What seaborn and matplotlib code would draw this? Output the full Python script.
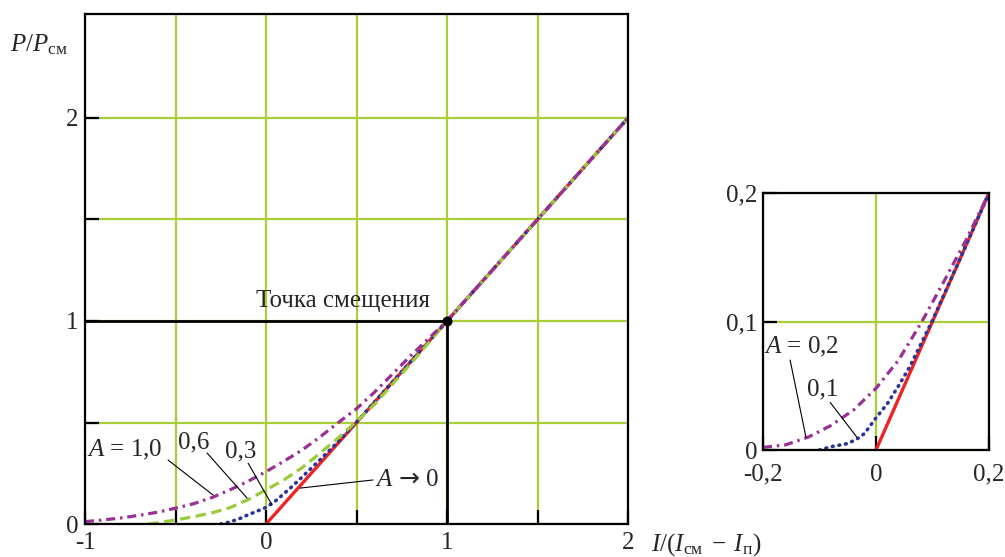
import matplotlib
matplotlib.use("Agg")
import matplotlib.pyplot as plt
import seaborn as sns

# Normalised current I/(I_cm - I_p) and output power P/P_cm for several A
a10_x = [-1.0, -0.9, -0.8, -0.7, -0.6, -0.5, -0.4, -0.3, -0.2, -0.1, 0.0,
         0.1, 0.2, 0.3, 0.4, 0.5, 0.6, 0.7, 0.8, 0.9, 1.0, 1.5, 2.0]
a10_y = [0.012, 0.02, 0.03, 0.043, 0.058, 0.078, 0.10, 0.13, 0.168, 0.21, 0.258,
         0.31, 0.365, 0.43, 0.50, 0.568, 0.65, 0.74, 0.83, 0.915, 1.0, 1.5, 2.0]

a06_x = [-0.65, -0.6, -0.5, -0.4, -0.3, -0.2, -0.1, 0.0, 0.1, 0.2, 0.3,
         0.4, 0.5, 0.6, 0.7, 0.8, 0.9, 1.0, 1.5, 2.0]
a06_y = [0.0, 0.006, 0.02, 0.036, 0.055, 0.08, 0.12, 0.168, 0.218, 0.278, 0.35,
         0.425, 0.505, 0.59, 0.69, 0.79, 0.895, 1.0, 1.5, 2.0]

a03_x = [-0.25, -0.2, -0.15, -0.1, -0.05, 0.0, 0.05, 0.1, 0.15, 0.2, 0.3,
         0.4, 0.5, 1.0, 1.5, 2.0]
a03_y = [0.0, 0.01, 0.025, 0.045, 0.063, 0.082, 0.112, 0.15, 0.19, 0.232, 0.318,
         0.407, 0.502, 1.0, 1.5, 2.0]

a00_x = [0.0, 2.0]
a00_y = [0.0, 2.0]

# Enlarged region near threshold
z02_x = [-0.2, -0.16, -0.12, -0.08, -0.04, 0.0, 0.04, 0.08, 0.12, 0.16, 0.2]
z02_y = [0.002, 0.004, 0.01, 0.019, 0.031, 0.048, 0.07, 0.099, 0.131, 0.164, 0.2]

z01_x = [-0.1, -0.08, -0.05, -0.03, -0.02, 0.0, 0.02, 0.04, 0.06, 0.08, 0.1, 0.15, 0.2]
z01_y = [0.0, 0.0025, 0.005, 0.0095, 0.013, 0.025, 0.036, 0.05, 0.065, 0.083, 0.101, 0.15, 0.2]

z00_x = [0.0, 0.2]
z00_y = [0.0, 0.2]

bias_x, bias_y = 1.0, 1.0

main_xticks = [-1, -0.5, 0, 0.5, 1, 1.5, 2]
main_xlabels = ["-1", "", "0", "", "1", "", "2"]
main_yticks = [0, 0.5, 1, 1.5, 2]
main_ylabels = ["0", "", "1", "", "2"]
zoom_xticks = [-0.2, 0, 0.2]
zoom_xlabels = ["-0,2", "0", "0,2"]
zoom_yticks = [0, 0.1, 0.2]
zoom_ylabels = ["0", "0,1", "0,2"]

sns.set_style("white")
plt.rcParams["font.family"] = ["Liberation Serif", "DejaVu Serif"]
plt.rcParams["mathtext.fontset"] = "custom"
plt.rcParams["mathtext.rm"] = "Liberation Serif"
plt.rcParams["mathtext.it"] = "Liberation Serif:italic"
plt.rcParams["mathtext.sf"] = "DejaVu Sans"
plt.rcParams["mathtext.fallback"] = "stix"
plt.rcParams["lines.scale_dashes"] = False
plt.rcParams["axes.unicode_minus"] = False

GRID = "#a9cf38"
PURPLE = "#9a2f96"
GREEN = "#9acb3c"
BLUE = "#29359a"
RED = "#ee2424"
FS = 18

fig = plt.figure(figsize=(10.05, 5.57), dpi=100)
ax = fig.add_axes([0.0846, 0.0592, 0.5403, 0.9157])
ins = fig.add_axes([0.7592, 0.1921, 0.2249, 0.4614])


def style_axes(a, xt, xl, yt, yl, xlim, ylim, xpad, ypad):
    a.set_xlim(*xlim)
    a.set_ylim(*ylim)
    a.set_xticks(xt)
    a.set_xticklabels(xl)
    a.set_yticks(yt)
    a.set_yticklabels(yl)
    a.grid(True, color=GRID, lw=1.6)
    a.set_axisbelow(True)
    a.tick_params(axis="both", direction="in", length=10, width=1.6,
                  color="black", labelsize=FS, bottom=True, left=True)
    a.tick_params(axis="x", pad=xpad)
    a.tick_params(axis="y", pad=ypad)
    for s in a.spines.values():
        s.set_visible(True)
        s.set_color("black")
        s.set_linewidth(1.6)
    a.set_xlabel("")
    a.set_ylabel("")


def curve(a, xs, ys, color, dashes=None, lw=2.3, cap="butt"):
    sns.lineplot(x=xs, y=ys, ax=a, color=color, lw=lw, sort=False,
                 estimator=None, solid_capstyle="butt")
    line = a.get_lines()[-1]
    if dashes is not None:
        line.set_dashes(dashes)
        line.set_dash_capstyle(cap)
    return line


# Main chart
curve(ax, a00_x, a00_y, RED, lw=2.4)
curve(ax, a03_x, a03_y, BLUE, dashes=[0.6, 4.2], lw=2.6, cap="round")
curve(ax, a06_x, a06_y, GREEN, dashes=[7.5, 4.0])
curve(ax, a10_x, a10_y, PURPLE, dashes=[6.5, 3.5, 1.8, 3.5])

ax.hlines(bias_y, -1, bias_x, color="black", lw=2.0, zorder=1.5)
ax.vlines(bias_x, 0, bias_y, color="black", lw=2.0, zorder=1.5)
ax.scatter([bias_x], [bias_y], s=38, color="black", zorder=6)
style_axes(ax, main_xticks, main_xlabels, main_yticks, main_ylabels,
           (-1, 2), (0, 2.512), 6, 5)

ax.text(0.425, 1.098, "Точка смещения", fontsize=FS, ha="center", va="center")

ann = dict(arrowstyle="-", color="black", lw=0.8, shrinkA=0, shrinkB=0)
ax.text(-0.78, 0.365, "$A$ = 1,0", fontsize=FS, ha="center", va="center")
ax.annotate("", xy=(-0.293, 0.143), xytext=(-0.541, 0.315), arrowprops=ann)
ax.text(-0.398, 0.404, "0,6", fontsize=FS, ha="center", va="center")
ax.annotate("", xy=(-0.105, 0.128), xytext=(-0.326, 0.350), arrowprops=ann)
ax.text(-0.138, 0.355, "0,3", fontsize=FS, ha="center", va="center")
ax.annotate("", xy=(0.033, 0.094), xytext=(-0.099, 0.300), arrowprops=ann)
ax.text(0.603, 0.217, r"$A\,\mathsf{\rightarrow}\,0$", fontsize=FS,
        ha="left", va="center")
ax.annotate("", xy=(0.188, 0.177), xytext=(0.591, 0.217), arrowprops=ann)

# Inset near threshold
curve(ins, z00_x, z00_y, RED, lw=2.4)
curve(ins, z01_x, z01_y, BLUE, dashes=[0.6, 4.2], lw=2.6, cap="round")
curve(ins, z02_x, z02_y, PURPLE, dashes=[6.5, 3.5, 1.8, 3.5])
style_axes(ins, zoom_xticks, zoom_xlabels, zoom_yticks, zoom_ylabels,
           (-0.2, 0.2), (0, 0.2), 10, 4)

ins.text(-0.131, 0.080, "$A$ = 0,2", fontsize=FS, ha="center", va="center")
ins.annotate("", xy=(-0.124, 0.010), xytext=(-0.152, 0.070), arrowprops=ann)
ins.text(-0.094, 0.047, "0,1", fontsize=FS, ha="center", va="center")
ins.annotate("", xy=(-0.034, 0.010), xytext=(-0.081, 0.037), arrowprops=ann)

# Axis titles
fig.text(10 / 1005, 1 - 45 / 557, r"$P/P_{\mathrm{см}}$", fontsize=FS,
         ha="left", va="center")
fig.text(651 / 1005, 1 - 545 / 557,
         r"$I/(I_{\mathrm{см}}\;-\;I_{\mathrm{п}})$",
         fontsize=FS, ha="left", va="center")

fig.savefig("out.png", dpi=100)
